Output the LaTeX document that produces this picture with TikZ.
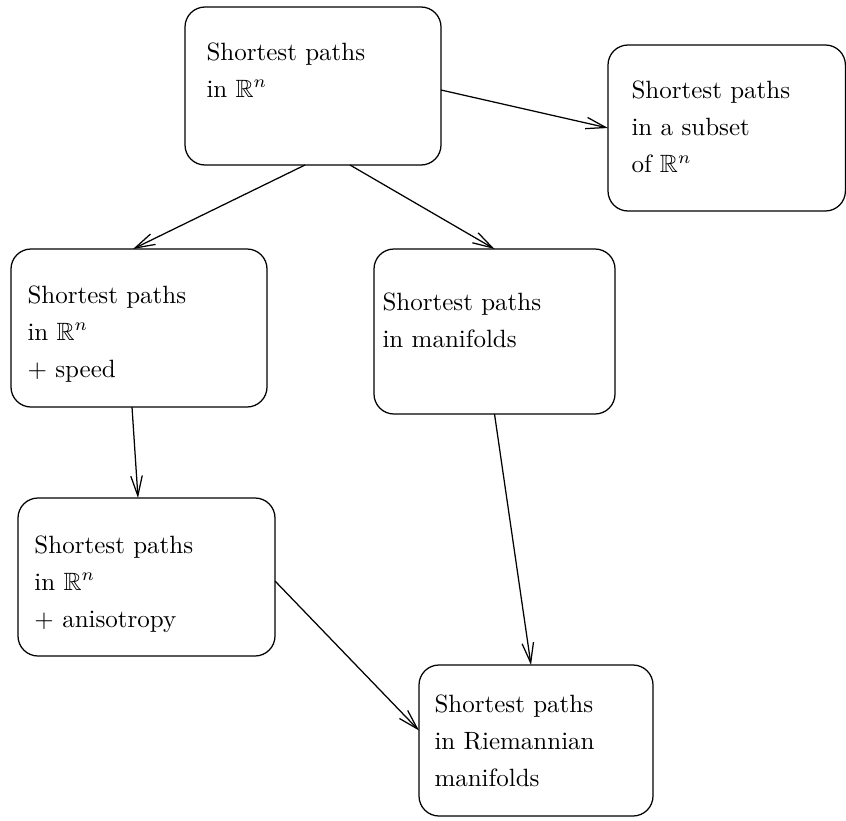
\documentclass[tikz,border=0pt]{standalone}
\usepackage{amssymb}
\usetikzlibrary{fit,arrows.meta,calc}
\begin{document}
\begin{tikzpicture}[x=0.4pt,y=-0.4pt,
  box/.style={draw,rounded corners=8pt,inner sep=0pt,outer sep=0pt,line width=0.5pt},
  lbl/.style={anchor=base west,inner sep=0pt,font=\normalsize},
  arr/.style={line width=0.5pt,-{Straight Barb[length=8pt,width=4.6pt,line width=0.5pt]}}]
\useasboundingbox (0,0) rectangle (846,820);
\newcommand{\lines}[1]{\renewcommand\arraystretch{1.235}\begin{tabular}[t]{@{}l@{}}#1\end{tabular}}
% boxes
\node[box,fit={(185,7) (441,165)}] (A) {};
\node[box,fit={(608,45) (845.4,211)}] (B) {};
\node[box,fit={(11,249) (267,407)}] (C) {};
\node[box,fit={(374,249) (615,414)}] (D) {};
\node[box,fit={(18,498) (275,656)}] (E) {};
\node[box,fit={(419,665) (653,816)}] (F) {};
% texts
\node[lbl] (tA) at (206,60) {\lines{Shortest paths\\ in $\mathbb{R}^n$}};
\node[lbl] (tB) at (631,98) {\lines{Shortest paths\\ in a subset\\ of $\mathbb{R}^n$}};
\node[lbl] (tC) at (27,303) {\lines{Shortest paths\\ in $\mathbb{R}^n$\\ $+$ speed}};
\node[lbl] (tD) at (382,310) {\lines{Shortest paths\\ in manifolds}};
\node[lbl] (tE) at (34,553) {\lines{Shortest paths\\ in $\mathbb{R}^n$\\ $+$ anisotropy}};
\node[lbl] (tF) at (434,712) {\lines{Shortest paths\\ in Riemannian\\ manifolds}};
% arrows
\draw[arr] ([yshift=-1.6pt]A.east) -- (B.west);
\draw[arr] ([xshift=-3.2pt]A.south) -- ([xshift=-2.4pt]C.north);
\draw[arr] ([xshift=14.8pt]A.south) -- (D.north);
\draw[arr] ([xshift=-2.8pt]C.south) -- ([xshift=-3.4pt]E.north);
\draw[arr] (D.south) -- ([xshift=-2pt]F.north);
\draw[arr] ([yshift=-1.6pt]E.east) -- ([yshift=4pt]F.west);
\end{tikzpicture}
\end{document}
